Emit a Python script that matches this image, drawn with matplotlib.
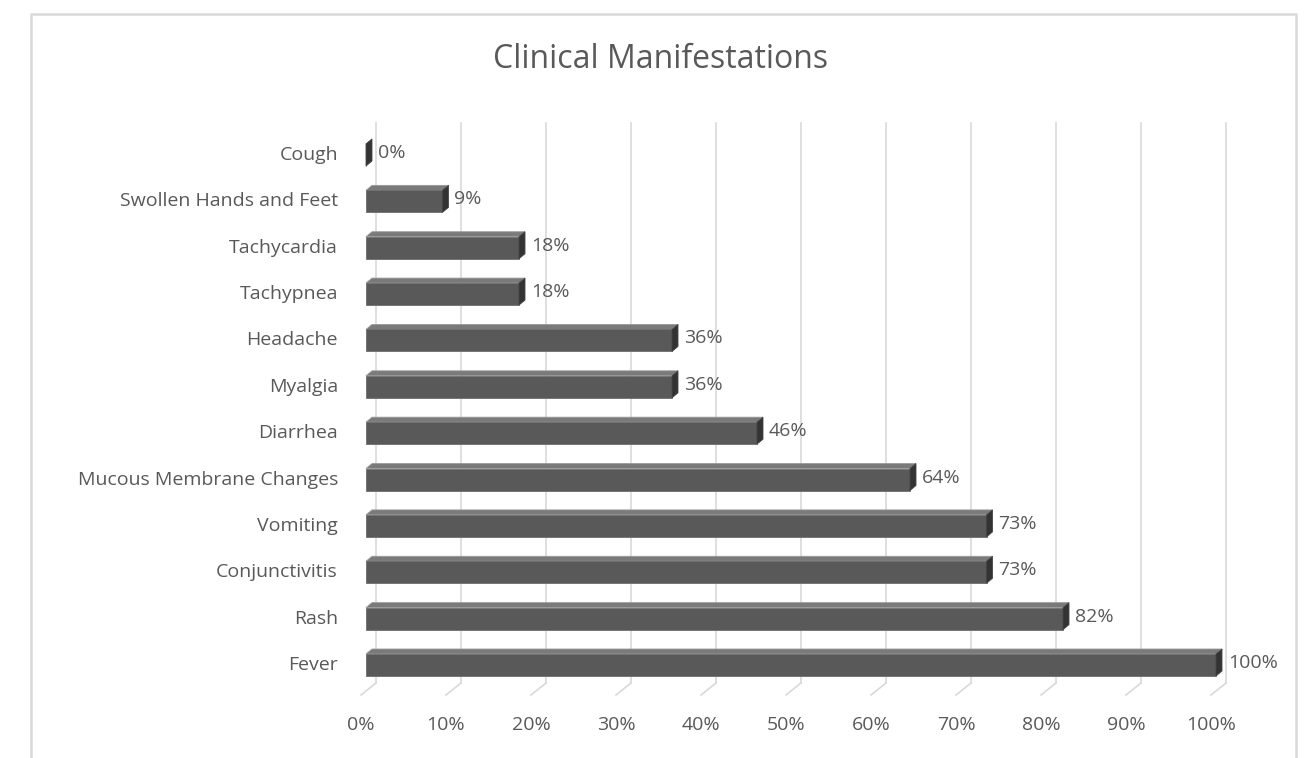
import matplotlib.pyplot as plt
from matplotlib.patches import Rectangle, Polygon
import matplotlib.transforms as mtransforms

plt.rcParams['font.family'] = ['Open Sans', 'DejaVu Sans']

symptoms = ['Fever', 'Rash', 'Conjunctivitis', 'Vomiting', 'Mucous Membrane Changes',
            'Diarrhea', 'Myalgia', 'Headache', 'Tachypnea', 'Tachycardia',
            'Swollen Hands and Feet', 'Cough']
share = [1.00, 0.82, 0.73, 0.73, 0.64, 0.46, 0.36, 0.36, 0.18, 0.18, 0.09, 0.00]
ticks = [0.0, 0.1, 0.2, 0.3, 0.4, 0.5, 0.6, 0.7, 0.8, 0.9, 1.0]

W, H = 1309, 758
text_col = '#595959'
grid_col = '#d9d9d9'
fs = 14

fig = plt.figure(figsize=(W / 100, H / 100), dpi=100)

# chart area border (Excel style, bottom edge cut off)
fig.add_artist(plt.Line2D([31 / W, 31 / W, 1296 / W, 1296 / W],
                          [0, 1 - 14 / H, 1 - 14 / H, 0],
                          transform=fig.transFigure, color=grid_col, lw=1.8))

# axes in pixel layout: bar plane from x=366 (0%) to x=1216 (100%)
left, right, top, bottom = 366, 1216, 125, 695
ax = fig.add_axes([left / W, 1 - bottom / H, (right - left) / W, (bottom - top) / H])
n = len(symptoms)
ppy = (665 - 155) / (n - 1)
ax.set_xlim(0, 1)
ax.set_ylim(-(bottom - 665) / ppy, n - 1 + (155 - top) / ppy)
ax.axis('off')
ppx = right - left

back = mtransforms.offset_copy(ax.transData, fig, x=10, y=12, units='dots')
front = mtransforms.offset_copy(ax.transData, fig, x=-5, y=0, units='dots')

# gridlines on the back wall and the floor diagonals
y_floor = (665 - 695) / ppy
y_top = n - 1 + (155 - 123 - 12) / ppy
for t in ticks:
    ax.plot([t, t], [y_floor, y_top], color=grid_col, lw=1.2, transform=back, clip_on=False)
    ax.plot([t - 15 / ppx, t], [y_floor - 12 / ppy, y_floor], color=grid_col, lw=1.2,
            transform=back, clip_on=False)
    ax.text(t, y_floor - 30 / ppy, f'{t:.0%}', transform=front, ha='center', va='center',
            fontsize=fs, color=text_col)

# 3D-looking bars
bh = 22 / ppy
dx, dy = 6 / ppx, 5 / ppy
for i, (name, v) in enumerate(zip(symptoms, share)):
    y0, y1 = i - bh / 2, i + bh / 2
    ax.add_patch(Polygon([(0, y1), (v, y1), (v + dx, y1 + dy), (dx, y1 + dy)],
                         closed=True, facecolor='#7a7a7a', edgecolor='#9a9a9a', lw=0.6,
                         clip_on=False, zorder=3))
    ax.add_patch(Rectangle((0, y0), v, bh, facecolor='#595959', edgecolor='#6e6e6e',
                           lw=0.6, clip_on=False, zorder=3))
    ax.add_patch(Polygon([(v, y0), (v + dx, y0 + dy), (v + dx, y1 + dy), (v, y1)],
                         closed=True, facecolor='#333333', edgecolor='#444444', lw=0.6,
                         clip_on=False, zorder=3))
    ax.text(v + dx + 6 / ppx, i + 2 / ppy, f'{v:.0%}', ha='left', va='center', fontsize=fs,
            color=text_col)
    ax.text(-28 / ppx, i, name, ha='right', va='center', fontsize=fs, color=text_col)

fig.text(661 / W, 1 - 60 / H, 'Clinical Manifestations', ha='center', va='center',
         fontsize=23, color=text_col)

fig.savefig('out.png', dpi=100)
